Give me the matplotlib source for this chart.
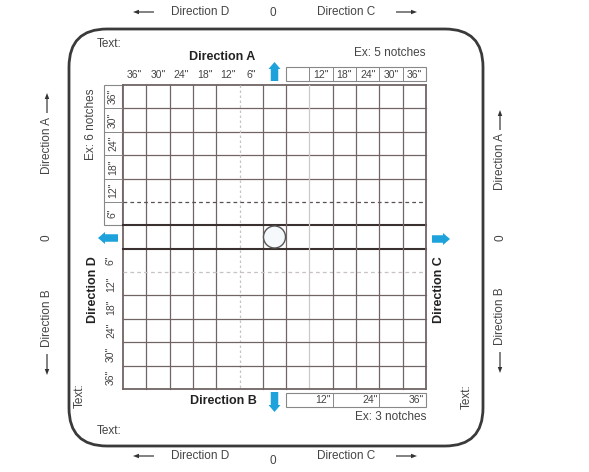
import matplotlib
matplotlib.use("Agg")
import matplotlib.pyplot as plt
import matplotlib.patches as patches

# labels / values
inch_marks = ['6"', '12"', '18"', '24"', '30"', '36"']
top_right_marks = ['', '12"', '18"', '24"', '30"', '36"']
bottom_marks = ['12"', '24"', '36"']
n_cells = 13
notch_notes = {'top': 'Ex: 5 notches', 'left': 'Ex: 6 notches', 'bottom': 'Ex: 3 notches'}
side_names = {'A': 'Direction A', 'B': 'Direction B', 'C': 'Direction C', 'D': 'Direction D'}

plt.rcParams['font.family'] = ['Liberation Sans', 'DejaVu Sans']

fig = plt.figure(figsize=(5.89, 4.72), dpi=100)
ax = fig.add_axes([0, 0, 1, 1])
ax.set_xlim(0, 589)
ax.set_ylim(472, 0)
ax.axis('off')

TXT = '#444444'
BLUE = '#1ea2dc'
GRID = '#716464'

# outer rounded frame
frame = patches.FancyBboxPatch((69, 29), 414, 417,
                               boxstyle="round,pad=0,rounding_size=38",
                               lw=2.0, edgecolor='#3a3a3a', facecolor='white')
ax.add_patch(frame)

# grid
x0, x1, y0, y1 = 123, 426, 85, 389
cw = (x1 - x0) / n_cells
ch = (y1 - y0) / n_cells
for i in range(n_cells + 1):
    x = x0 + i * cw
    y = y0 + i * ch
    # vertical
    if i == 5:
        ax.plot([x, x], [y0, y1], color='#c9c2c2', lw=0.9, ls=(0, (2, 2)))
    elif i == 8:
        ax.plot([x, x], [y0, y1], color='#cfc8c8', lw=0.9)
    else:
        lw = 1.3 if i in (0, n_cells) else 0.9
        ax.plot([x, x], [y0, y1], color=GRID, lw=lw)
    # horizontal
    if i == 5:
        ax.plot([x0, x1], [y, y], color='#5a5050', lw=0.9, ls=(0, (3, 2.5)))
    elif i == 8:
        ax.plot([x0, x1], [y, y], color='#c9c2c2', lw=0.9, ls=(0, (3, 2.5)))
    elif i in (6, 7):
        ax.plot([x0, x1], [y, y], color='#3a3030', lw=1.5)
    else:
        lw = 1.3 if i in (0, n_cells) else 0.9
        ax.plot([x0, x1], [y, y], color=GRID, lw=lw)

cx = x0 + 6.5 * cw
cy = y0 + 6.5 * ch
ax.add_patch(patches.Circle((cx, cy), 11, facecolor='#f5f9fc',
                            edgecolor='#555555', lw=1.0, zorder=3))

fs_small = 7.5
# top-left labels (no box)
for k, lab in enumerate(reversed(inch_marks)):
    ax.text(x0 + (k + 0.5) * cw, 75, lab, ha='center', va='center',
            fontsize=fs_small, color=TXT)

# top-right box
bx0 = x0 + 7 * cw
ax.add_patch(patches.Rectangle((bx0, 67), x1 - bx0, 14, fill=False,
                               edgecolor='#888888', lw=0.8))
for k, lab in enumerate(top_right_marks):
    xl = bx0 + k * cw
    if k > 0:
        ax.plot([xl, xl], [67, 81], color='#888888', lw=0.7)
    ax.text(xl + cw / 2, 74.5, lab, ha='center', va='center',
            fontsize=fs_small, color=TXT)
ax.text(x1, 53, notch_notes['top'], ha='right', va='center', fontsize=8.5, color=TXT)

# left upper box (rotated labels)
lx0, lx1 = 104, x0 - 1
ax.add_patch(patches.Rectangle((lx0, y0), lx1 - lx0, 6 * ch, fill=False,
                               edgecolor='#888888', lw=0.8))
for k, lab in enumerate(reversed(inch_marks)):
    yl = y0 + k * ch
    if k > 0:
        ax.plot([lx0, lx1], [yl, yl], color='#888888', lw=0.7)
    ax.text((lx0 + lx1) / 2, yl + ch / 2, lab, ha='center', va='center',
            rotation=90, fontsize=fs_small, color=TXT)
ax.text(91, 88, notch_notes['left'], ha='center', va='top', rotation=90,
        fontsize=8.5, color=TXT)

# left lower labels (no box)
for k, lab in enumerate(inch_marks):
    ax.text(111, y0 + (7 + k + 0.5) * ch, lab, ha='center', va='center',
            rotation=90, fontsize=fs_small, color=TXT)

# bottom box
ax.add_patch(patches.Rectangle((bx0, 393), x1 - bx0, 14, fill=False,
                               edgecolor='#888888', lw=0.8))
for k, lab in enumerate(bottom_marks):
    xr = x0 + (9 + 2 * k) * cw
    if k < len(bottom_marks) - 1:
        ax.plot([xr, xr], [393, 407], color='#888888', lw=0.7)
    ax.text(xr - 2, 400, lab, ha='right', va='center', fontsize=fs_small, color=TXT)
ax.text(x1, 417, notch_notes['bottom'], ha='right', va='center', fontsize=8.5, color=TXT)

# bold direction labels
ax.text(222, 57, side_names['A'], ha='center', va='center', fontsize=9,
        fontweight='bold', color='#222222')
ax.text(223, 401, side_names['B'], ha='center', va='center', fontsize=9,
        fontweight='bold', color='#222222')
ax.text(93, 290, side_names['D'], ha='center', va='center', rotation=90,
        fontsize=9, fontweight='bold', color='#222222')
ax.text(439, 290, side_names['C'], ha='center', va='center', rotation=90,
        fontsize=9, fontweight='bold', color='#222222')

# blue arrows
def blue_arrow(x, y, dx, dy):
    ax.add_patch(patches.FancyArrow(x, y, dx, dy, width=7.5, head_width=12,
                                    head_length=7, length_includes_head=True,
                                    color=BLUE, lw=0, zorder=4))

blue_arrow(cx, 81, 0, -19)
blue_arrow(cx, 392, 0, 20)
blue_arrow(118, cy + 1, -20, 0)
blue_arrow(432, cy + 2, 18, 0)

# "Text:" fields
ax.text(97, 44, 'Text:', ha='left', va='center', fontsize=8.5, color=TXT)
ax.text(97, 431, 'Text:', ha='left', va='center', fontsize=8.5, color=TXT)
ax.text(80, 396, 'Text:', ha='center', va='center', rotation=90, fontsize=8.5, color=TXT)
ax.text(467, 397, 'Text:', ha='center', va='center', rotation=90, fontsize=8.5, color=TXT)

# outer direction captions
def black_arrow(x, y, dx, dy):
    ax.add_patch(patches.FancyArrow(x, y, dx, dy, width=1.2, head_width=4.5,
                                    head_length=6, length_includes_head=True,
                                    color='#333333', lw=0))

for yy, zero_y in ((12, 13), (456, 461)):
    black_arrow(154, yy, -21, 0)
    ax.text(200, yy, side_names['D'], ha='center', va='center', fontsize=8.5, color=TXT)
    ax.text(273, zero_y, '0', ha='center', va='center', fontsize=8.5, color=TXT)
    ax.text(346, yy, side_names['C'], ha='center', va='center', fontsize=8.5, color=TXT)
    black_arrow(396, yy, 21, 0)

for xx, a_y, b_y in ((47, 145, 318), (500, 162, 316)):
    ax.text(xx, a_y, side_names['A'], ha='center', va='center', rotation=90,
            fontsize=8.5, color=TXT)
    black_arrow(xx, a_y - 32, 0, -20)
    ax.text(xx, 238, '0', ha='center', va='center', rotation=90, fontsize=8.5, color=TXT)
    ax.text(xx, b_y, side_names['B'], ha='center', va='center', rotation=90,
            fontsize=8.5, color=TXT)
    black_arrow(xx, b_y + 36, 0, 21)

fig.savefig('out.png', dpi=100)
